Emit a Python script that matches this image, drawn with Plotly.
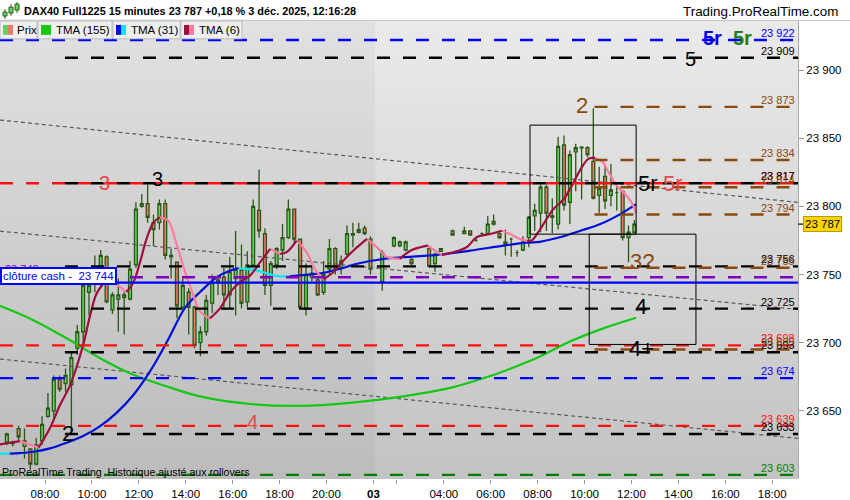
import plotly.graph_objects as go

# ---------------- data ----------------
# x unit = one 15-minute bar; bar 0 = 2 déc. 08:00, 3 déc. session opens at bar 57 (01:15)
bar_idx = [-7, -6, -5, -4, -3, -2, -1, 0, 1, 2, 3, 4, 5, 6, 7, 8, 9, 10, 11, 12, 13, 14, 15, 16, 17, 18, 19,
           20, 21, 22, 23, 24, 25, 26, 27, 28, 29, 30, 31, 32, 33, 34, 35, 36, 37, 38, 39, 40, 41, 42, 43, 44,
           45, 46, 47, 48, 49, 50, 51, 52, 53, 54, 55,
           57, 59, 60, 61, 62, 65, 66, 67, 69, 71, 72, 73, 74, 75, 76, 77, 78, 79, 80, 81, 82, 83, 84, 85,
           86, 87, 88, 89, 90, 91, 92, 93, 94, 95, 96, 97, 98, 99, 100]
opens = [23627, 23626, 23637, 23624, 23622, 23611, 23628, 23646, 23650, 23673, 23670, 23669, 23696, 23708,
         23737, 23747, 23744, 23763, 23724, 23732, 23733, 23732, 23757, 23800, 23802, 23788, 23788, 23802,
         23764, 23759, 23726, 23737, 23726, 23700, 23708, 23729, 23744, 23748, 23735, 23747, 23753, 23730,
         23757, 23797, 23780, 23742, 23757, 23768, 23777, 23798, 23776, 23725, 23748, 23746, 23737, 23754,
         23769, 23755, 23765, 23779, 23781, 23784, 23776,
         23745, 23771, 23771, 23768, 23761, 23769, 23758, 23767, 23782, 23780, 23782, 23775, 23780, 23780,
         23789, 23780, 23774, 23776, 23766, 23768, 23777, 23793, 23795, 23814, 23793, 23787, 23845, 23803,
         23840, 23843, 23843, 23833, 23808, 23822, 23808, 23810, 23811, 23777, 23781]
highs = [23634, 23628, 23639, 23637, 23622, 23630, 23646, 23663, 23676, 23676, 23681, 23693, 23713, 23747,
         23747, 23764, 23768, 23764, 23737, 23747, 23737, 23760, 23803, 23809, 23816, 23794, 23805, 23805,
         23769, 23759, 23747, 23740, 23727, 23712, 23735, 23750, 23749, 23755, 23763, 23782, 23772, 23767,
         23805, 23827, 23784, 23760, 23770, 23787, 23805, 23798, 23776, 23758, 23756, 23748, 23760, 23776,
         23770, 23764, 23786, 23788, 23788, 23786, 23778,
         23768, 23778, 23775, 23775, 23762, 23770, 23766, 23769, 23783, 23785, 23782, 23776, 23781, 23793,
         23794, 23781, 23783, 23777, 23768, 23778, 23793, 23802, 23816, 23816, 23806, 23851, 23852, 23841,
         23846, 23844, 23844, 23872, 23829, 23830, 23831, 23817, 23812, 23786, 23790]
lows = [23625, 23624, 23628, 23615, 23607, 23610, 23625, 23645, 23645, 23664, 23664, 23635, 23691, 23697,
        23720, 23737, 23740, 23729, 23721, 23708, 23706, 23731, 23755, 23799, 23788, 23771, 23783, 23761,
        23747, 23718, 23723, 23706, 23696, 23690, 23705, 23722, 23735, 23724, 23725, 23720, 23725, 23726,
        23757, 23777, 23735, 23727, 23754, 23760, 23776, 23772, 23725, 23720, 23745, 23734, 23735, 23750,
        23750, 23750, 23763, 23770, 23780, 23779, 23750,
        23738, 23770, 23770, 23767, 23757, 23755, 23752, 23767, 23779, 23780, 23779, 23774, 23779, 23779,
        23786, 23776, 23764, 23763, 23763, 23767, 23770, 23782, 23781, 23782, 23780, 23783, 23797, 23787,
        23811, 23805, 23836, 23805, 23795, 23798, 23800, 23797, 23775, 23759, 23781]
closes = [23633, 23627, 23631, 23628, 23611, 23625, 23640, 23652, 23673, 23666, 23676, 23689, 23708, 23742,
          23742, 23755, 23764, 23730, 23735, 23735, 23735, 23754, 23798, 23802, 23792, 23783, 23802, 23764,
          23763, 23727, 23742, 23726, 23698, 23708, 23731, 23744, 23746, 23735, 23752, 23754, 23729, 23757,
          23800, 23782, 23742, 23758, 23769, 23777, 23798, 23776, 23726, 23750, 23751, 23735, 23750, 23769,
          23754, 23760, 23780, 23780, 23783, 23780, 23754,
          23766, 23777, 23774, 23774, 23758, 23756, 23765, 23769, 23779, 23782, 23779, 23775, 23780, 23787,
          23787, 23777, 23772, 23776, 23766, 23774, 23792, 23797, 23814, 23795, 23792, 23844, 23801, 23838,
          23843, 23843.5, 23838, 23806, 23813, 23804, 23812, 23810, 23777, 23781, 23787]

tick_bars = [0, 8, 16, 24, 32, 40, 48, 56, 60, 68, 76, 84, 92, 100, 108, 116, 124]
tick_text = ['08:00', '10:00', '12:00', '14:00', '16:00', '18:00', '20:00', '<b>03</b>', '', '04:00', '06:00',
             '08:00', '10:00', '12:00', '14:00', '16:00', '18:00']
price_ticks = [23650, 23700, 23750, 23800, 23850, 23900]

# moving averages (bar position, price)
tma155_x = [-7.7, -2, 3.7, 9.4, 15.1, 20.8, 26.4, 35, 43.5, 52, 60.5, 69.1, 75.9, 81, 84.4, 89.5, 95.2, 100.8]
tma155_y = [23727, 23716.5, 23703.2, 23688.6, 23676.4, 23667.9, 23660.6, 23655, 23653.6, 23655.8, 23660.2,
            23666.8, 23675.5, 23683.7, 23689.8, 23700.8, 23710.5, 23718.3]
tma31_x = [-7.7, -6, -4.3, -2, 0.85, 3.7, 6.5, 9.4, 12.2, 15.1, 17.9, 20.8, 23.6, 24.7, 26.4, 29.3, 31.6, 33,
           36.1, 39.5, 41.8, 44.6, 47.5, 50.3, 53.2, 56, 58.8, 61.1, 66.8, 72.5, 78.2, 82.2, 84.4, 87.8, 91.3,
           94.7, 98.1, 100.8]
tma31_y = [23618.6, 23618.6, 23619, 23620, 23622.5, 23626.6, 23631.5, 23638.8, 23648.5, 23661.8, 23678.9,
           23700.7, 23723.8, 23729.9, 23737, 23748.1, 23753, 23754.7, 23753, 23748.9, 23748.9, 23749.8,
           23751.3, 23754.2, 23757.9, 23760.3, 23762, 23762.7, 23764.4, 23767.5, 23771.2, 23773.4, 23774,
           23777.3, 23782.1, 23787, 23794.3, 23801.6]
tma6_x = [-7.7, -4.3, -1.1, 0.85, 2.6, 4.3, 6.5, 7.7, 8.8, 10.2, 11.9, 13.9, 15.1, 16.2, 17.3, 18.5, 19.6, 21,
          22.5, 23.9, 25.3, 26.4, 28.1, 29.8, 31.6, 33.3, 35, 36.7, 38.4, 40.1, 41.2, 42.9, 44.6, 46, 47.5, 49.2,
          50.9, 52.6, 54.9, 56.6, 58.3, 60.5, 62.3, 64, 65.3, 66.5, 67.7, 69.6, 71.9, 73.6, 75.9, 77.9, 79.3,
          81, 82.2, 83, 84.4, 86.7, 88.4, 89.5, 91.3, 92.7, 93.8, 95, 96.1, 97.5, 98.9, 100, 100.8]
tma6_y = [23625.4, 23627.8, 23623, 23637.5, 23654.6, 23669.1, 23698.3, 23720.2, 23736, 23744.5, 23743.3,
          23737.2, 23744.5, 23759, 23776, 23788.2, 23791.9, 23789.4, 23771.2, 23751.8, 23734.7, 23723,
          23717.8, 23725, 23737.2, 23744.5, 23749.4, 23759.1, 23768.8, 23765.1, 23766.4, 23774.9, 23766.4,
          23754.2, 23746.4, 23751.8, 23760.3, 23767.6, 23776.1, 23770, 23763, 23761.5, 23767.5, 23770,
          23771.2, 23767.5, 23764.4, 23766.3, 23770, 23777.3, 23779.7, 23782.1, 23779.7, 23776, 23774.8,
          23775, 23783, 23798, 23805, 23812.5, 23827, 23835, 23835.5, 23833, 23825, 23815, 23809, 23803, 23795]

# horizontal levels
full_levels = [23922, 23817, 23748, 23698, 23674, 23639, 23603]
full_colors = ['#0000ff', '#ff1010', '#8000c0', '#ff1010', '#0000ff', '#ff1010', '#008000']
black_levels = [23909, 23817, 23756, 23725, 23693, 23633]
black_from_bar = 3.4
brown_levels = [23873, 23834, 23814, 23794, 23755, 23695]
brown_from_bar = 93.7
cash_close = 23744
cash_level = 23748
last_price = 23787

# dotted trend lines: price at left edge, price at right edge
trend_left = [23863.3, 23781.8, 23688.0]
trend_right = [23802.9, 23724.4, 23629.8]

# rectangles (bar from, bar to, price low, price high)
zones = [(82.7, 100.8, 23779.6, 23859.6), (92.8, 111.0, 23698.7, 23779.6)]

# wave labels: text, bar, price, colour, size
wave_labels = [
    ('2', 91.6, 23874, '#8a4a0e', 22), ('5', 110.0, 23908, '#000000', 20),
    ('<b>5r</b>', 113.9, 23923.5, '#0000ee', 20), ('<b>5r</b>', 119.0, 23923.5, '#1f7f1f', 20),
    ('5r', 102.8, 23816.5, '#000000', 22), ('5r', 107.1, 23816.5, '#e84545', 22),
    ('3', 10.1, 23817.5, '#e84545', 20), ('3', 19.1, 23820, '#000000', 20),
    ('3?', 101.8, 23759.5, '#8a4a0e', 22), ('4', 101.7, 23726.5, '#000000', 22),
    ('4+', 101.7, 23695.5, '#000000', 22), ('4', 35.3, 23641.5, '#e84545', 20),
    ('2', 3.9, 23633.5, '#000000', 22),
]

# ---------------- layout geometry ----------------
W, H = 850, 500
ML, MR, MT, MB = 0, 52, 20, 17
PW, PH = W - ML - MR, H - MT - MB
X_RANGE = [-7.675, 128.4]
Y_RANGE = [23600, 23936.7]


def pxx(x):
    return (x - ML) / PW


def pxy(y):
    return (H - MB - y) / PH


def fmt(v):
    return f"{v:,}".replace(',', ' ')


FONT = 'Arial, Liberation Sans, sans-serif'
fig = go.Figure()

# candles
fig.add_trace(go.Candlestick(
    x=[b + 0.5 for b in bar_idx], open=opens, high=highs, low=lows, close=closes,
    increasing=dict(fillcolor='#5ed65a', line=dict(color='#2b5716', width=1.3)),
    decreasing=dict(fillcolor='#e8796d', line=dict(color='#2b5716', width=1.3)),
    whiskerwidth=0, showlegend=False, hoverinfo='skip'))

# dotted trend lines
for a, b in zip(trend_left, trend_right):
    fig.add_trace(go.Scatter(x=X_RANGE, y=[a, b], mode='lines',
                             line=dict(color='#5a5a5a', width=1.2, dash='4px,3px'),
                             hoverinfo='skip', showlegend=False))


def runs(xs, ys):
    """split a sampled line into rising / falling runs"""
    out = {True: ([], []), False: ([], [])}
    cur = None
    pts = []
    for i in range(len(xs) - 1):
        up = ys[i + 1] > ys[i]
        if up != cur:
            if pts:
                out[cur][0].extend([p[0] for p in pts] + [None])
                out[cur][1].extend([p[1] for p in pts] + [None])
            pts = [(xs[i], ys[i])]
            cur = up
        pts.append((xs[i + 1], ys[i + 1]))
    if pts:
        out[cur][0].extend([p[0] for p in pts])
        out[cur][1].extend([p[1] for p in pts])
    return out


fig.add_trace(go.Scatter(x=tma155_x, y=tma155_y, mode='lines', line=dict(color='#14c814', width=2.2, shape='spline'),
                         hoverinfo='skip', showlegend=False))
r31 = runs(tma31_x, tma31_y)
fig.add_trace(go.Scatter(x=r31[False][0], y=r31[False][1], mode='lines',
                         line=dict(color='#00e8f0', width=2.2, shape='spline'), hoverinfo='skip', showlegend=False))
fig.add_trace(go.Scatter(x=r31[True][0], y=r31[True][1], mode='lines',
                         line=dict(color='#0010d8', width=2.2, shape='spline'), hoverinfo='skip', showlegend=False))
r6 = runs(tma6_x, tma6_y)
fig.add_trace(go.Scatter(x=r6[False][0], y=r6[False][1], mode='lines',
                         line=dict(color='#ff7a9e', width=2.2, shape='spline'), hoverinfo='skip', showlegend=False))
fig.add_trace(go.Scatter(x=r6[True][0], y=r6[True][1], mode='lines',
                         line=dict(color='#9c0f3e', width=2.2, shape='spline'), hoverinfo='skip', showlegend=False))

shapes = []
# background gradient
N = 46
top, bot = (234, 234, 234), (195, 195, 195)
for i in range(N):
    t = i / (N - 1)
    c = tuple(round(top[k] + (bot[k] - top[k]) * t) for k in range(3))
    shapes.append(dict(type='rect', xref='paper', yref='paper', x0=0, x1=1, y0=1 - (i + 1) / N, y1=1 - i / N + 0.001,
                       fillcolor='rgb(%d,%d,%d)' % c, line=dict(width=0), layer='below'))
# previous session shading
shapes.append(dict(type='rect', xref='x', yref='paper', x0=X_RANGE[0], x1=56.3, y0=0, y1=1,
                   fillcolor='rgba(0,0,0,0.035)', line=dict(width=0), layer='below'))

DASH = '13px,13px'
for lv, col in zip(full_levels, full_colors):
    shapes.append(dict(type='line', xref='paper', yref='y', x0=0, x1=1, y0=lv, y1=lv,
                       line=dict(color=col, width=2.4, dash=DASH), layer='above'))
for lv in black_levels:
    shapes.append(dict(type='line', xref='x', yref='y', x0=black_from_bar, x1=X_RANGE[1], y0=lv, y1=lv,
                       line=dict(color='#000000', width=2.4, dash=DASH), layer='above'))
for lv in brown_levels:
    shapes.append(dict(type='line', xref='x', yref='y', x0=brown_from_bar, x1=X_RANGE[1], y0=lv, y1=lv,
                       line=dict(color='#8a4a0e', width=2.4, dash=DASH), layer='above'))
shapes.append(dict(type='line', xref='paper', yref='y', x0=0, x1=1, y0=cash_close, y1=cash_close,
                   line=dict(color='#0000ff', width=2.2), layer='above'))
for x0, x1, y0, y1 in zones:
    shapes.append(dict(type='rect', xref='x', yref='y', x0=x0, x1=x1, y0=y0, y1=y1,
                       line=dict(color='#000000', width=1), layer='above'))

# last price tick on axis
shapes.append(dict(type='line', xref='paper', yref='y', x0=1, x1=1 + 5 / PW, y0=last_price, y1=last_price,
                   line=dict(color='#000000', width=1.2)))

# header separator and legend boxes
shapes.append(dict(type='line', xref='paper', yref='paper', x0=0, x1=W / PW, y0=pxy(20.5), y1=pxy(20.5),
                   line=dict(color='#c8c8c8', width=1)))
legend_boxes = [(0, 37, ['#5ed65a', '#e8796d'], 'Prix', 15),
                (38, 112, ['#14c814', '#14c814'], 'TMA (155)', 54),
                (113, 180, ['#0010d8', '#00e8f0'], 'TMA (31)', 129),
                (181, 242, ['#9c0f3e', '#ff7a9e'], 'TMA (6)', 197)]
annotations = []
for x0, x1, cols, label, tx in legend_boxes:
    shapes.append(dict(type='rect', xref='paper', yref='paper', x0=pxx(x0), x1=pxx(x1), y0=pxy(39), y1=pxy(21),
                       fillcolor='#efefef', line=dict(color='#bdbdbd', width=1), layer='above'))
    shapes.append(dict(type='rect', xref='paper', yref='paper', x0=pxx(x0 + 3), x1=pxx(x0 + 8), y0=pxy(35),
                       y1=pxy(25), fillcolor=cols[0], line=dict(width=0), layer='above'))
    shapes.append(dict(type='rect', xref='paper', yref='paper', x0=pxx(x0 + 8), x1=pxx(x0 + 13), y0=pxy(35),
                       y1=pxy(25), fillcolor=cols[1], line=dict(width=0), layer='above'))
    annotations.append(dict(xref='paper', yref='paper', x=pxx(tx), y=pxy(30), xanchor='left', yanchor='middle',
                            text=label, showarrow=False, font=dict(family=FONT, size=11.5, color='#000000')))

# header icon (three small candles)
for cx, top_y, b0, b1, bot_y in [(5, 9, 12, 16, 19), (11, 4, 7, 13, 16), (17, 2, 4, 10, 13)]:
    shapes.append(dict(type='line', xref='paper', yref='paper', x0=pxx(cx), x1=pxx(cx), y0=pxy(bot_y),
                       y1=pxy(top_y), line=dict(color='#2b5716', width=1)))
    shapes.append(dict(type='rect', xref='paper', yref='paper', x0=pxx(cx - 2), x1=pxx(cx + 2), y0=pxy(b1),
                       y1=pxy(b0), fillcolor='#5ed65a', line=dict(color='#2b5716', width=1)))

annotations.append(dict(xref='paper', yref='paper', x=pxx(22), y=pxy(11), xanchor='left', yanchor='middle',
                        text='<b>DAX40 Full1225 15 minutes 23 787 +0,18 % 3 déc. 2025, 12:16:28</b>',
                        showarrow=False, font=dict(family=FONT, size=10.9, color='#000000')))
annotations.append(dict(xref='paper', yref='paper', x=pxx(840), y=pxy(11), xanchor='right', yanchor='middle',
                        text='Trading.ProRealTime.com', showarrow=False,
                        font=dict(family=FONT, size=13.4, color='#000000')))
annotations.append(dict(xref='paper', yref='paper', x=pxx(0), y=pxy(476), xanchor='left', yanchor='middle',
                        text='ProRealTime Trading  Historique ajusté aux rollovers', showarrow=False,
                        font=dict(family=FONT, size=10.6, color='#000000')))

# right-hand level labels
label_sets = [(full_levels, full_colors), (black_levels, ['#000000'] * len(black_levels)),
              (brown_levels, ['#8a4a0e'] * len(brown_levels))]
for lvls, cols in label_sets:
    for lv, col in zip(lvls, cols):
        if lv == cash_level:
            continue
        annotations.append(dict(xref='paper', yref='y', x=1, y=lv, xanchor='right', yanchor='bottom',
                                xshift=-1, yshift=-1, text=fmt(lv), showarrow=False,
                                font=dict(family=FONT, size=11, color=col)))

# cash close label (left)
annotations.append(dict(xref='paper', yref='y', x=0.004, y=cash_level, xanchor='left', yanchor='bottom',
                        text=fmt(cash_level), showarrow=False, font=dict(family=FONT, size=11, color='#8000c0')))
annotations.append(dict(xref='paper', yref='y', x=0, y=cash_close, xanchor='left', yanchor='bottom', yshift=-2,
                        text='clôture cash -  ' + fmt(cash_close), showarrow=False, bgcolor='#ffffff',
                        bordercolor='#0000ff', borderwidth=2, borderpad=1,
                        font=dict(family=FONT, size=11.5, color='#0000ff')))

# last price box
annotations.append(dict(xref='paper', yref='y', x=1, y=last_price, xanchor='left', yanchor='middle', xshift=5,
                        text=fmt(last_price), showarrow=False, bgcolor='#ffd400', bordercolor='#b89a00',
                        borderwidth=1, borderpad=1, font=dict(family=FONT, size=11.5, color='#000000')))

for txt, bx, py, col, sz in wave_labels:
    annotations.append(dict(xref='x', yref='y', x=bx, y=py, xanchor='center', yanchor='middle', text=txt,
                            showarrow=False, font=dict(family=FONT, size=sz, color=col)))

fig.update_layout(
    width=W, height=H, margin=dict(l=ML, r=MR, t=MT, b=MB),
    paper_bgcolor='#ffffff', plot_bgcolor='#d8d8d8',
    shapes=shapes, annotations=annotations, showlegend=False,
    font=dict(family=FONT, size=11, color='#000000'),
    xaxis=dict(range=X_RANGE, tickmode='array', tickvals=tick_bars, ticktext=tick_text,
               showgrid=False, zeroline=False, showline=False, ticks='outside', ticklen=4,
               tickcolor='#9a9a9a', tickfont=dict(family=FONT, size=11.5, color='#000000'),
               rangeslider=dict(visible=False), fixedrange=True),
    yaxis=dict(range=Y_RANGE, side='right', tickmode='array', tickvals=price_ticks,
               ticktext=[fmt(v) for v in price_ticks], showgrid=False, zeroline=False,
               showline=True, linecolor='#a8a8a8', linewidth=1, ticks='outside', ticklen=5,
               tickcolor='#9a9a9a', tickfont=dict(family=FONT, size=11.5, color='#000000'), fixedrange=True),
)

fig.write_html('out.html', config={'displayModeBar': False},
               post_script="document.body.style.margin='0px';document.body.style.overflow='hidden';")
